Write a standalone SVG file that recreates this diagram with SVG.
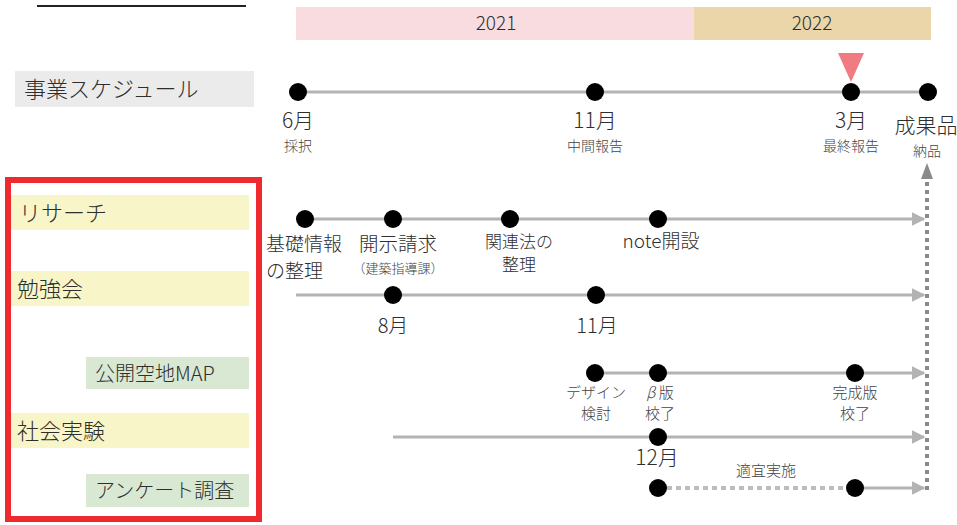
<svg xmlns="http://www.w3.org/2000/svg" width="957" height="525" viewBox="0 0 957 525">
<defs>
<style>
text{font-family:"Noto Sans CJK JP","Noto Sans",sans-serif;fill:#2e2e2e;font-weight:300}
.lbl{font-size:22px}
.big{font-size:19px;text-anchor:middle}
.sm{font-size:14px;text-anchor:middle;fill:#444}
.md{font-size:17px;text-anchor:middle}
.line{stroke:#b3b3b3;stroke-width:3;fill:none}
.arr{stroke:#b3b3b3;stroke-width:3;fill:none;marker-end:url(#ah)}
.dot{fill:#000}
.yel{fill:#f8f6c8}
.grn{fill:#d9e8d3}
</style>
<marker id="ah" viewBox="0 0 10 10" refX="9" refY="5" markerWidth="4.5" markerHeight="4.5" orient="auto" markerUnits="strokeWidth">
<path d="M0,0 L10,5 L0,10 z" fill="#b3b3b3"/>
</marker>
</defs>
<rect width="957" height="525" fill="#fff"/>
<line x1="37" y1="6" x2="246" y2="6" stroke="#222" stroke-width="2"/>

<g id="years">
<rect x="296" y="7" width="398" height="33" fill="#f9dcdf"/>
<rect x="694" y="7" width="237" height="33" fill="#ebd6a9"/>
<text x="496" y="30" class="big">2021</text>
<text x="812" y="30" class="big">2022</text>
</g>

<g id="connectors">
<line class="line" x1="298" y1="92" x2="928" y2="92"/>
<line class="arr" x1="305" y1="219" x2="924" y2="219"/>
<line class="arr" x1="296" y1="295" x2="924" y2="295"/>
<line class="arr" x1="595" y1="373" x2="924" y2="373"/>
<line class="arr" x1="393" y1="437" x2="924" y2="437"/>
<line x1="658" y1="488" x2="855" y2="488" stroke="#bcbcbc" stroke-width="4" stroke-dasharray="5 4"/>
<line class="arr" x1="855" y1="488" x2="924" y2="488"/>
<line x1="927" y1="490" x2="927" y2="176" stroke="#8a8a8a" stroke-width="4" stroke-dasharray="4 4"/>
<path d="M921,179 L927,163 L933,179 z" fill="#8a8a8a"/>
</g>

<g id="schedule">
<rect x="15" y="71" width="239" height="36" fill="#ebebeb"/>
<text x="24" y="97" class="lbl">事業スケジュール</text>
<path d="M838,53 L864,53 L851,82 z" fill="#f07c82"/>
<circle class="dot" cx="298" cy="92" r="9"/>
<circle class="dot" cx="595" cy="92" r="9"/>
<circle class="dot" cx="851" cy="92" r="9"/>
<circle class="dot" cx="928" cy="92" r="9"/>
<text x="298" y="128" class="big" style="font-size:21px">6月</text>
<text x="298" y="151" class="sm">採択</text>
<text x="595" y="128" class="big" style="font-size:21px">11月</text>
<text x="595" y="151" class="sm">中間報告</text>
<text x="851" y="128" class="big" style="font-size:21px">3月</text>
<text x="851" y="151" class="sm">最終報告</text>
<text x="926" y="133" class="big" style="font-size:21px">成果品</text>
<text x="927" y="156" class="sm">納品</text>
</g>

<rect x="8" y="180" width="251" height="339" fill="none" stroke="#ee2a2f" stroke-width="6"/>

<g id="research">
<rect class="yel" x="11" y="195" width="238" height="35"/>
<text x="19" y="221" class="lbl">リサーチ</text>
<circle class="dot" cx="305" cy="219" r="9"/>
<circle class="dot" cx="393" cy="219" r="9"/>
<circle class="dot" cx="510" cy="219" r="9"/>
<circle class="dot" cx="658" cy="219" r="9"/>
<text x="266" y="251" style="font-size:19px">基礎情報</text>
<text x="266" y="278" style="font-size:19px">の整理</text>
<text x="398" y="251" class="big" style="font-size:19.5px">開示請求</text>
<text x="398" y="273" class="sm" style="font-size:13px">（建築指導課）</text>
<text x="519" y="248" class="md">関連法の</text>
<text x="519" y="271" class="md">整理</text>
<text x="661" y="248" class="big">note開設</text>
</g>

<g id="study">
<rect class="yel" x="11" y="271" width="238" height="35"/>
<text x="17" y="297" class="lbl">勉強会</text>
<circle class="dot" cx="393" cy="295" r="9"/>
<circle class="dot" cx="596" cy="295" r="9"/>
<text x="393" y="333" class="big" style="font-size:20px">8月</text>
<text x="597" y="333" class="big" style="font-size:20px">11月</text>
</g>

<g id="map">
<rect class="grn" x="86" y="357" width="163" height="32"/>
<text x="95" y="381" class="lbl" style="font-size:20px">公開空地MAP</text>
<circle class="dot" cx="595" cy="373" r="9"/>
<circle class="dot" cx="658" cy="373" r="9"/>
<circle class="dot" cx="855" cy="373" r="9"/>
<text x="596" y="398" class="sm" style="font-size:15px">デザイン</text>
<text x="596" y="419" class="sm" style="font-size:15px">検討</text>
<text x="660" y="398" class="sm" style="font-size:15px"><tspan font-style="italic">β</tspan> 版</text>
<text x="660" y="419" class="sm" style="font-size:15px">校了</text>
<text x="855" y="398" class="sm" style="font-size:15px">完成版</text>
<text x="855" y="419" class="sm" style="font-size:15px">校了</text>
</g>

<g id="experiment">
<rect class="yel" x="11" y="413" width="238" height="35"/>
<text x="17" y="439" class="lbl">社会実験</text>
<circle class="dot" cx="658" cy="437" r="9"/>
<text x="657" y="465" class="big" style="font-size:21px">12月</text>
</g>

<g id="survey">
<rect class="grn" x="86" y="474" width="163" height="33"/>
<text x="95" y="498" class="lbl" style="font-size:20px">アンケート調査</text>
<circle class="dot" cx="658" cy="488" r="9"/>
<circle class="dot" cx="855" cy="488" r="9"/>
<text x="766" y="476" class="sm" style="font-size:15px">適宜実施</text>
</g>
</svg>
